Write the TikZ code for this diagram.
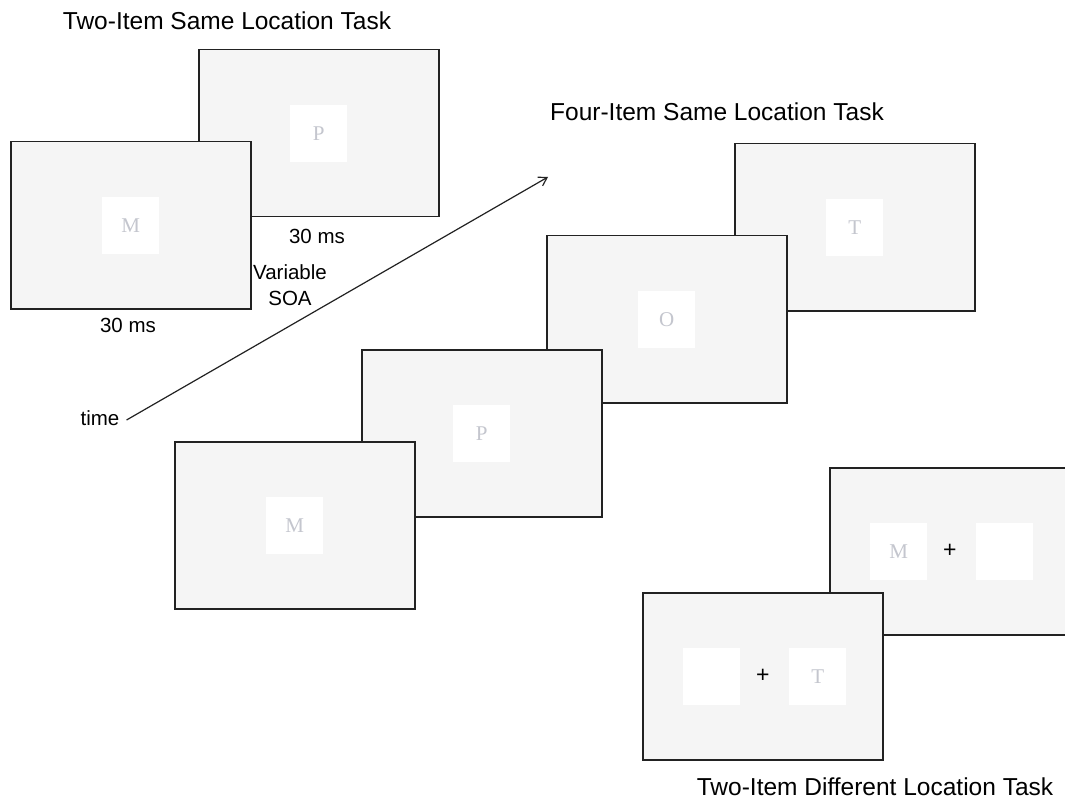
\documentclass[tikz,border=0pt]{standalone}
\usepackage{fontspec}
\setmainfont{Liberation Sans}
\newfontfamily\letterfont{Liberation Serif}
\usetikzlibrary{arrows.meta}
\definecolor{scrfill}{HTML}{F5F5F5}
\definecolor{letgray}{HTML}{C4C6CE}
\definecolor{edge}{HTML}{222222}
\tikzset{
  screen/.style={draw=edge, line width=1.5pt, fill=scrfill, minimum width=240pt, minimum height=167pt, inner sep=0pt, anchor=north west},
  letterbox/.style={fill=white, minimum size=57pt, inner sep=0pt, text=letgray, font=\letterfont\fontsize{21}{21}\selectfont},
  fixmark/.style={inner sep=0pt, font=\fontsize{23}{23}\selectfont},
  title/.style={inner sep=0pt, font=\fontsize{24.5}{27}\selectfont},
  lbl/.style={inner sep=0pt, align=center, font=\fontsize{20.5}{26}\selectfont},
}
\begin{document}
\begin{tikzpicture}[x=1pt,y=-1pt]
\clip (0,0) rectangle (1065,802);
\fill[white] (0,0) rectangle (1065,802);

% Two-item same location task
\node[title] (t1) at (227,21) {Two-Item Same Location Task};
\node[screen] (a2) at (198,49) {};
\node[letterbox] (a2l) at (a2.center) {P};
\node[screen] (a1) at (10,141) {};
\node[letterbox] (a1l) at (a1.center) {M};
\node[lbl] (a2t) at (317,236) {30 ms};
\node[lbl] (soa) at (290,285) {Variable\\SOA};
\node[lbl] (a1t) at (128,325) {30 ms};

% time arrow
\node[lbl] (time) at (100,418) {time};
\coordinate (tip) at (548,177);
\draw[edge, line width=1.2pt, -{Straight Barb[length=8pt,width=10pt]}] ([xshift=7pt,yshift=-2pt]time.east) -- (tip);

% Four-item same location task
\node[title] (t2) at (717,112) {Four-Item Same Location Task};
\node[screen] (b4) at (734,143) {};
\node[letterbox] (b4l) at (b4.center) {T};
\node[screen] (b3) at (546,235) {};
\node[letterbox] (b3l) at (b3.center) {O};
\node[screen] (b2) at (361,349) {};
\node[letterbox] (b2l) at (b2.center) {P};
\node[screen] (b1) at (174,441) {};
\node[letterbox] (b1l) at (b1.center) {M};

% Two-item different location task
\node[screen] (c2) at (829,467) {};
\node[fixmark] (c2f) at (c2.center) {+};
\node[letterbox] (c2a) at ([xshift=-51pt]c2.center) {M};
\node[letterbox] (c2b) at ([xshift=55pt]c2.center) {};
\node[screen] (c1) at (642,592) {};
\node[fixmark] (c1f) at (c1.center) {+};
\node[letterbox] (c1a) at ([xshift=-51pt]c1.center) {};
\node[letterbox] (c1b) at ([xshift=55pt]c1.center) {T};
\node[title] (t3) at (875,787) {Two-Item Different Location Task};
\end{tikzpicture}
\end{document}
